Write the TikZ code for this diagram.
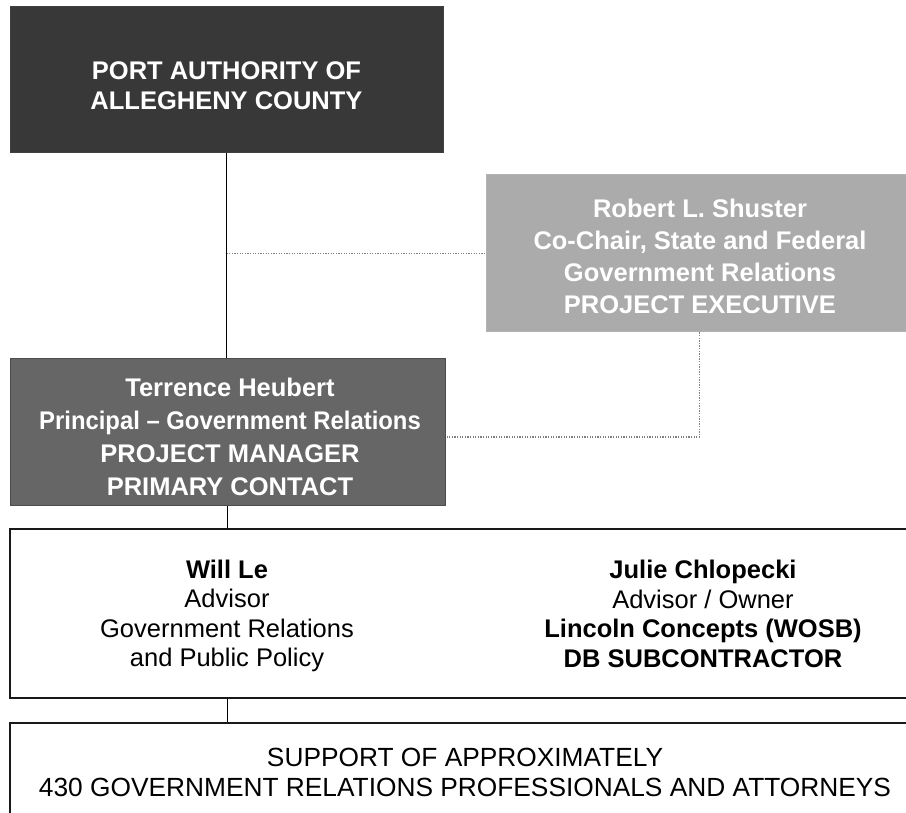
\documentclass[tikz,border=0pt]{standalone}
\usepackage{fontspec}
\setmainfont{Liberation Sans}
\begin{document}
\begin{tikzpicture}[x=1pt,y=-1pt,
  darkbox/.style={draw=black!75,line width=1pt,fill=black!78,minimum width=433pt,minimum height=146pt,inner sep=0pt},
  midbox/.style={draw=black!70,line width=1pt,fill=black!60,minimum width=435pt,minimum height=146pt,inner sep=0pt},
  lightbox/.style={draw=black!30,line width=1pt,fill=black!33,minimum width=427pt,minimum height=157pt,inner sep=0pt},
  openbox/.style={draw=black!90,line width=1.8pt,fill=white,minimum width=920pt,inner sep=0pt},
  whitetxt/.style={text=white,font=\fontsize{25.5}{30}\selectfont\bfseries,align=center,inner sep=0pt},
  blacktxt/.style={text=black,font=\fontsize{25.5}{29.5}\selectfont,align=center,inner sep=0pt},
  link/.style={draw=black,line width=1.5pt},
  dotlink/.style={draw=black!50,line width=1.6pt,dash pattern=on 1.3pt off 1.3pt}]
\clip (0,0) rectangle (906,813);
\fill[white] (0,0) rectangle (906,813);
% boxes
\node[darkbox] (top) at (226.5,80) {};
\node[lightbox] (rob) at (699.5,253.5) {};
\node[midbox] (ter) at (227.5,432) {};
\node[openbox,minimum height=169pt] (team) at (470,613.5) {};
\node[openbox,minimum height=140pt] (sup) at (470,793) {};
% texts
\node[whitetxt] (toptxt) at (226.5,86) {PORT AUTHORITY OF\\ALLEGHENY COUNTY};
\node[whitetxt,font=\fontsize{25.5}{32}\selectfont\bfseries] (robtxt) at (700,256) {Robert L. Shuster\\Co-Chair, State and Federal\\Government Relations\\PROJECT EXECUTIVE};
\node[whitetxt,font=\fontsize{25.5}{33}\selectfont\bfseries] (tertxt) at (230,437) {Terrence Heubert\\\scalebox{0.935}[1]{Principal -- Government Relations}\\PROJECT MANAGER\\PRIMARY CONTACT};
\node[blacktxt] (will) at (227,616) {\textbf{Will Le}\\Advisor\\Government Relations\\and Public Policy};
\node[blacktxt] (julie) at (703,614) {\textbf{Julie Chlopecki}\\Advisor / Owner\\\textbf{Lincoln Concepts (WOSB)}\\\textbf{DB SUBCONTRACTOR}};
\node[blacktxt,font=\fontsize{26.3}{30}\selectfont] (suptxt) at (465,772) {SUPPORT OF APPROXIMATELY\\430 GOVERNMENT RELATIONS PROFESSIONALS AND ATTORNEYS};
% connectors
\coordinate (j1) at (top.south |- rob.west);
\draw[link] (top.south) -- (top.south |- ter.north);
\draw[dotlink] (j1) -- (rob.west);
\draw[dotlink] (rob.south) |- ([yshift=-5pt]ter.east);
\draw[link] (ter.south) -- (ter.south |- team.north);
\draw[link] (ter.south |- team.south) -- (ter.south |- sup.north);
\end{tikzpicture}
\end{document}
